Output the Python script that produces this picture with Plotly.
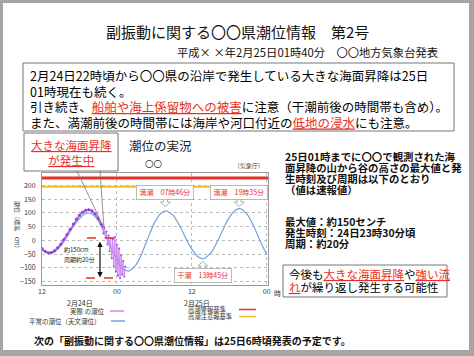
import plotly.graph_objects as go

FONT = "Noto Sans CJK JP"
W, H = 474, 356
PX0, PX1, PY0, PY1 = 42, 268, 173, 285   # plot area in pixels (left, right, top, bottom)

# ---------------- data ----------------
# hours counted from 2/24 12:00
astro_hours = [0, 1, 1.2, 2, 3, 4, 5, 6, 7, 7.5, 8, 9, 10, 11, 12, 13, 13.8, 14, 15, 16, 17, 18, 19, 19.8,
               20, 21, 22, 23, 24, 25, 25.75, 26, 27, 28, 29, 30, 31, 31.6, 32, 33, 34, 35, 36]
astro_cm = [-35, -47, -48, -42, -20, 13, 50, 80, 98, 100, 97, 72, 28, -24, -72, -104, -112, -111, -91, -47, 10, 63, 98, 108,
            107, 91, 55, 10, -32, -60, -67, -66, -47, -8, 40, 84, 111, 116, 114, 90, 47, -5, -52]

obs_hours = [0, 0.5, 1.0, 1.5, 2.0, 2.5, 3.0, 3.5, 4.0, 4.5, 5.0, 5.5, 6.0, 6.5, 7.0, 7.5, 8.0, 8.5, 9.0, 9.5,
             9.67, 9.83, 10.0, 10.17, 10.33, 10.5, 10.67, 10.83, 11.0, 11.17, 11.33, 11.5, 11.67, 11.83,
             12.0, 12.17, 12.33, 12.5, 12.67, 12.83, 13.0, 13.17, 13.33]
obs_cm = [-30, -40, -45, -44, -38, -27, -14, 3, 21, 41, 60, 78, 92, 103, 110, 112, 108, 97, 80, 58,
          50, 25, 45, 10, 32, -15, 18, -40, 8, -65, 5, -95, 12, -115,
          -15, -128, -30, -138, -55, -125, -75, -132, -95]
surge_start = 19          # index where the large oscillation begins

warning_level = 228      # 高潮警報基準
advisory_level = 196     # 高潮注意報基準

x_tick_hours = [0, 12, 24, 36]
x_tick_text = ["12", "00", "12", "00"]
y_tick_vals = [-150, -100, -50, 0, 50, 100, 150, 200]

tide_hours = [19.77, 31.58, 25.75]
tide_texts = ["満潮　07時46分", "満潮　19時35分", "干潮　13時45分"]

# ---------------- helpers ----------------
def fx(x):
    return (x - PX0) / (PX1 - PX0)

def fy(y):
    return (PY1 - y) / (PY1 - PY0)

annotations = []
shapes = []

def txt(x, y, s, size, color="#000", anchor="left", **kw):
    annotations.append(dict(x=fx(x), y=fy(y), xref="paper", yref="paper", text=s, showarrow=False,
                            xanchor=anchor, yanchor="middle",
                            font=dict(size=size, color=color, family=FONT), **kw))

def block(x, y, lines, size, spacing, color="#000", anchor="left", align="left", bold=False):
    """multi-line text with a given line spacing (pixels) and glyph size"""
    body = "<br>".join(lines)
    if bold:
        body = "<b>" + body + "</b>"
    s = f'<span style="font-size:{size}px">{body}</span>'
    annotations.append(dict(x=fx(x), y=fy(y), xref="paper", yref="paper", text=s, showarrow=False,
                            xanchor=anchor, yanchor="middle", align=align,
                            font=dict(size=spacing / 1.3, color=color, family=FONT)))

def rect(x0, y0, x1, y1, line="#888", width=1, fill="rgba(0,0,0,0)"):
    shapes.append(dict(type="rect", xref="paper", yref="paper", x0=fx(x0), x1=fx(x1), y0=fy(y0), y1=fy(y1),
                       line=dict(color=line, width=width), fillcolor=fill, layer="above"))

def seg(x0, y0, x1, y1, color="#666", width=1, dash="solid"):
    shapes.append(dict(type="line", xref="paper", yref="paper", x0=fx(x0), x1=fx(x1), y0=fy(y0), y1=fy(y1),
                       line=dict(color=color, width=width, dash=dash), layer="above"))

def poly(points, line="#999", fill="white", width=0.8):
    p = "M " + " L ".join(f"{fx(a):.5f},{fy(b):.5f}" for a, b in points) + " Z"
    shapes.append(dict(type="path", xref="paper", yref="paper", path=p,
                       line=dict(color=line, width=width), fillcolor=fill, layer="above"))

RED = "#e8302a"
def red_u(s):
    return f'<span style="color:{RED}"><u>{s}</u></span>'

# ---------------- figure ----------------
fig = go.Figure()
fig.add_trace(go.Scatter(x=astro_hours, y=astro_cm, mode="lines", line=dict(color="#6fa3dc", width=1.2, shape="spline"),
                         hoverinfo="skip", showlegend=False))
fig.add_trace(go.Scatter(x=obs_hours[surge_start:], y=obs_cm[surge_start:], mode="lines+markers",
                         line=dict(color="#cf86f5", width=1),
                         marker=dict(color="#a24ae6", size=2), hoverinfo="skip", showlegend=False))
fig.add_trace(go.Scatter(x=obs_hours[:surge_start + 1], y=obs_cm[:surge_start + 1], mode="lines+markers",
                         line=dict(color="#b45cf0", width=1.6),
                         marker=dict(color="#9a3be0", size=3), hoverinfo="skip", showlegend=False))

# threshold lines
shapes.append(dict(type="line", xref="x domain", yref="y", x0=0, x1=1, y0=warning_level, y1=warning_level,
                   line=dict(color=RED, width=3), layer="above"))
shapes.append(dict(type="line", xref="x domain", yref="y", x0=0, x1=1, y0=advisory_level, y1=advisory_level,
                   line=dict(color="#f0c020", width=2), layer="above"))

# outer frame
for (a, b, c, d) in [(0, 0, 3, 356), (0, 0, 474, 3), (469, 0, 474, 356), (0, 350, 474, 356)]:
    shapes.append(dict(type="rect", xref="paper", yref="paper", x0=fx(a), x1=fx(c), y0=fy(b), y1=fy(d),
                       line=dict(width=0), fillcolor="#a5a5a5", layer="above"))

# title
txt(237, 32, "副振動に関する〇〇県潮位情報　第2号", 15, "#111", anchor="center")
txt(440, 51.5, "平成× ×年2月25日01時40分　〇〇地方気象台発表", 11.3, "#111", anchor="right")

# main message box
rect(23, 63, 454, 131, line="#777", width=1)
block(28, 98.5, ["2月24日22時頃から〇〇県の沿岸で発生している大きな海面昇降は25日",
                 "01時現在も続く。",
                 "引き続き、" + red_u("船舶や海上係留物への被害") + "に注意（干潮前後の時間帯も含め）。",
                 "また、満潮前後の時間帯には海岸や河口付近の" + red_u("低地の浸水") + "にも注意。"],
      12.5, 15.5)

# callout box
rect(24, 133, 118, 171, line="#777", width=1, fill="white")
block(71, 152.5, [red_u("大きな海面昇降"), red_u("が発生中")], 11.5, 15, anchor="center", align="center")
seg(77, 171, 104, 228, "#777", 0.8)
seg(100, 171, 104, 228, "#777", 0.8)

# chart title
txt(127, 145, "潮位の実況", 12.5, "#222")
txt(143, 163, "〇〇", 8.5, "#333")
txt(266, 165, "（気象庁）", 6, "#444", anchor="right")

# y-axis title (vertical)
annotations.append(dict(x=fx(18), y=fy(226), xref="paper", yref="paper", text="潮位（標高　cm）",
                        showarrow=False, textangle=90, xanchor="center", yanchor="middle",
                        font=dict(size=6, color="#333", family=FONT)))

# amplitude markers
seg(87, 238, 117, 238, RED, 1.5, "dash")
seg(86, 278, 116, 278, RED, 1.5, "dash")
annotations.append(dict(x=fx(100), y=fy(277.5), xref="paper", yref="paper",
                        axref="pixel", ayref="pixel", ax=0, ay=-37.5,
                        text="", showarrow=True, arrowhead=2, arrowsize=0.9,
                        arrowwidth=1.2, arrowcolor="#111", arrowside="end+start"))
txt(62, 249, "約150cm", 6, "#222")
txt(62, 259, "周期約20分", 6, "#222")

# tide labels
for h, t, ypx in zip(tide_hours, tide_texts, [192.5, 192.5, 275.5]):
    annotations.append(dict(x=h, y=fy(ypx), xref="x", yref="paper", text=t, showarrow=False,
                            xanchor="center", yanchor="middle", bgcolor="white", bordercolor="#aaa",
                            borderwidth=0.8, borderpad=1.5, width=53,
                            font=dict(size=7, color=RED, family=FONT)))

def xpx(h):
    return PX0 + (h - 0) / 36.2 * (PX1 - PX0)

for h in tide_hours[:2]:
    c = xpx(h)
    poly([(c - 2, 198), (c - 2, 202), (c - 5, 202), (c, 206.5), (c + 5, 202), (c + 2, 202), (c + 2, 198)])
c = xpx(tide_hours[2])
poly([(c - 2, 270), (c - 2, 266), (c - 5, 266), (c, 261.5), (c + 5, 266), (c + 2, 266), (c + 2, 270)])

# x labels extra
txt(277, 293, "時", 7, "#333", anchor="center")
txt(80, 303, "2月24日", 7, "#333", anchor="center")
txt(197, 303, "2月25日", 7, "#333", anchor="center")

# legends
txt(106, 311, "実際 の潮位", 6.5, "#333", anchor="right")
seg(110, 311, 124, 311, "#e07ce8", 1.5)
txt(103, 321, "平常の潮位（天文潮位）", 6.5, "#333", anchor="right")
seg(111, 321, 125, 321, "#6fa3dc", 1.5)
block(186, 313, ["高潮警報基準", "高潮注意報基準"], 6.3, 7, "#333")
seg(239, 309.5, 256, 309.5, RED, 1.5)
seg(239, 316.5, 256, 316.5, "#f0c020", 1.5)

# right panel text
block(283, 173, ["25日01時までに〇〇で観測された海", "面昇降の山から谷の高さの最大値と発",
                 "生時刻及び周期は以下のとおり", "（値は速報値）"], 10.4, 11, "#111", bold=True)
block(283, 232, ["最大値：約150センチ", "発生時刻：24日23時30分頃", "周期：約20分"], 10.4, 11, "#111", bold=True)

# bottom right box
rect(283, 265, 447, 297, line="#777", width=1)
block(287, 280.5, ["今後も" + red_u("大きな海面昇降") + "や" + red_u("強い流"),
                   red_u("れ") + "が繰り返し発生する可能性"], 11.5, 13)

# bottom note
txt(32, 340, "<b>次の「副振動に関する〇〇県潮位情報」は25日6時頃発表の予定です。</b>", 10, "#111")

fig.update_layout(
    width=W, height=H, autosize=False,
    margin=dict(l=PX0, r=W - PX1, t=PY0, b=H - PY1),
    paper_bgcolor="white", plot_bgcolor="white",
    showlegend=False,
    annotations=annotations, shapes=shapes,
    xaxis=dict(range=[0, 36.2], tickvals=x_tick_hours, ticktext=x_tick_text,
               tickfont=dict(size=7, color="#333", family=FONT),
               showgrid=True, gridcolor="#bbb", griddash="dot", gridwidth=1,
               showline=True, linecolor="#999", linewidth=1, mirror=True, zeroline=False,
               ticks="", fixedrange=True),
    yaxis=dict(range=[-163, 246], tickvals=y_tick_vals,
               tickfont=dict(size=7, color="#333", family=FONT),
               showgrid=True, gridcolor="#bbb", griddash="dot", gridwidth=1,
               showline=True, linecolor="#999", linewidth=1, mirror=True, zeroline=False,
               ticks="", ticklabelstandoff=4, fixedrange=True),
)

fig.write_html("out.html")
